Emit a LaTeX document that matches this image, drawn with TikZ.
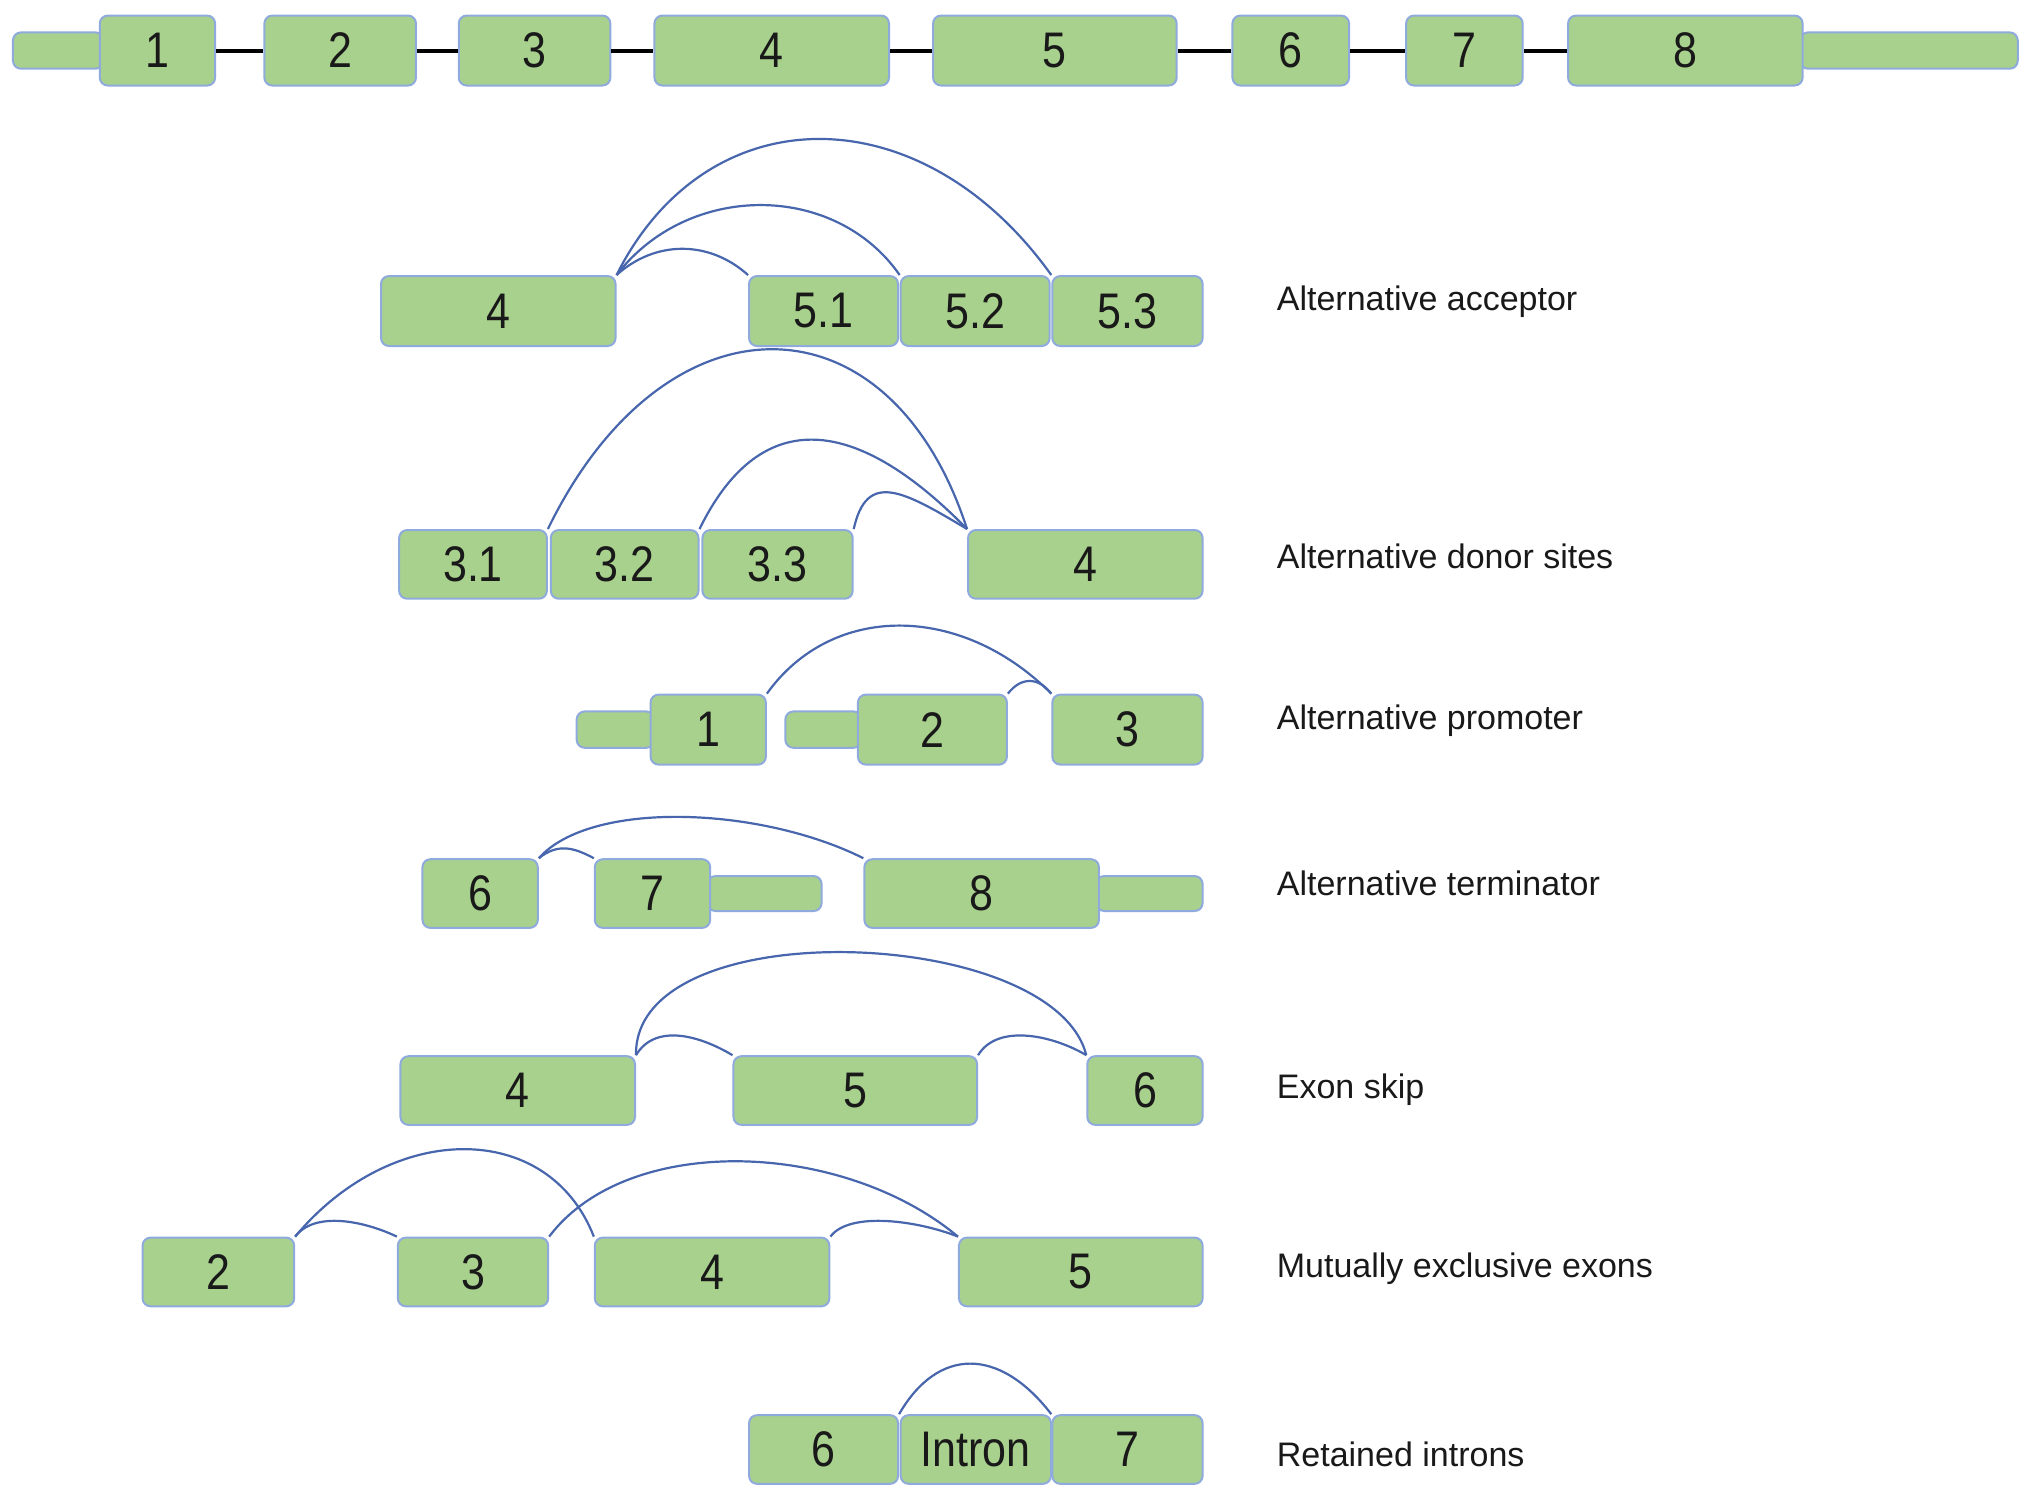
\documentclass[tikz,border=0pt]{standalone}
\usepackage{fontspec}
\setmainfont{Liberation Sans}
\newfontfamily\numf[FakeStretch=0.86]{Liberation Sans}
\definecolor{exfill}{HTML}{A9D18E}
\definecolor{exdraw}{HTML}{8FAADC}
\definecolor{arcc}{HTML}{4766AD}
\newdimen\pxu \pxu=0.648pt
\newcommand\gbox[7]{\node[#1, minimum width={(#4-#3)*\pxu}, minimum height={(#6-#5)*\pxu}] (#2) at ({(#3+#4)/2},{(#5+#6)/2}) {#7};}
\begin{document}
\begin{tikzpicture}[x=0.648pt,y=-0.648pt,
  exon/.style={draw=exdraw, fill=exfill, line width=1pt, rounded corners=4pt, inner sep=0pt, font=\numf\fontsize{25}{25}\selectfont, text=black!90},
  stub/.style={exon},
  intr/.style={draw=black, line width=2pt},
  junc/.style={draw=arcc, line width=1.1pt},
  lab/.style={anchor=west, inner sep=0pt, font=\fontsize{17}{17}\selectfont, text=black!90}]
\fill[white] (0,0) rectangle (1568,1157);
\useasboundingbox (0,0) rectangle (1568,1157);
% top row
\gbox{stub}{sL}{10}{80}{25}{53}{}
\gbox{stub}{sR}{1389}{1557}{25}{53}{}
\gbox{exon}{t1}{77}{166}{12}{66}{1}
\gbox{exon}{t2}{204}{321}{12}{66}{2}
\gbox{exon}{t3}{354}{471}{12}{66}{3}
\gbox{exon}{t4}{505}{686}{12}{66}{4}
\gbox{exon}{t5}{720}{908}{12}{66}{5}
\gbox{exon}{t6}{951}{1041}{12}{66}{6}
\gbox{exon}{t7}{1085}{1175}{12}{66}{7}
\gbox{exon}{t8}{1210}{1391}{12}{66}{8}
\draw[intr] (t1) -- (t2);
\draw[intr] (t2) -- (t3);
\draw[intr] (t3) -- (t4);
\draw[intr] (t4) -- (t5);
\draw[intr] (t5) -- (t6);
\draw[intr] (t6) -- (t7);
\draw[intr] (t7) -- (t8);
% alternative acceptor
\gbox{exon}{a4}{294}{475}{213}{267}{4}
\gbox{exon}{a51}{578}{693}{213}{267}{5.1}
\gbox{exon}{a52}{695}{810}{213}{267}{5.2}
\gbox{exon}{a53}{812}{928}{213}{267}{5.3}
\draw[junc] (a4.north east) .. controls +(30,-27) and +(-30,-27) .. (a51.north west);
\draw[junc] (a4.north east) .. controls +(55,-72) and +(-50,-72) .. (a52.north west);
\draw[junc] (a4.north east) .. controls +(70,-140) and +(-100,-140) .. (a53.north west);
\node[lab] (l1) at (985,233) {Alternative acceptor};
% alternative donor
\gbox{exon}{b31}{308}{422}{409}{462}{3.1}
\gbox{exon}{b32}{425}{539}{409}{462}{3.2}
\gbox{exon}{b33}{542}{658}{409}{462}{3.3}
\gbox{exon}{b4}{747}{928}{409}{462}{4}
\draw[junc] (b31.north east) .. controls +(90,-185) and +(-60,-185) .. (b4.north west);
\draw[junc] (b32.north east) .. controls +(45,-92) and +(-90,-92) .. (b4.north west);
\draw[junc] (b33.north east) .. controls +(10,-45) and +(-50,-30) .. (b4.north west);
\node[lab] (l2) at (985,429) {Alternative donor sites};
% alternative promoter
\gbox{stub}{cs1}{445}{505}{549}{577}{}
\gbox{stub}{cs2}{606}{665}{549}{577}{}
\gbox{exon}{c1}{502}{591}{536}{590}{1}
\gbox{exon}{c2}{662}{777}{536}{590}{2}
\gbox{exon}{c3}{812}{928}{536}{590}{3}
\draw[junc] (c1.north east) .. controls +(50,-70) and +(-70,-70) .. (c3.north west);
\draw[junc] (c2.north east) .. controls +(10,-13) and +(-10,-13) .. (c3.north west);
\node[lab] (l3) at (985,556) {Alternative promoter};
% alternative terminator
\gbox{stub}{ds1}{546}{634}{676}{703}{}
\gbox{stub}{ds2}{846}{928}{676}{703}{}
\gbox{exon}{d6}{326}{415}{663}{716}{6}
\gbox{exon}{d7}{459}{548}{663}{716}{7}
\gbox{exon}{d8}{667}{848}{663}{716}{8}
\draw[junc] (d6.north east) .. controls +(40,-45) and +(-80,-40) .. (d8.north west);
\draw[junc] (d6.north east) .. controls +(15,-12) and +(-15,-8) .. (d7.north west);
\node[lab] (l4) at (985,682) {Alternative terminator};
% exon skip
\gbox{exon}{e4}{309}{490}{815}{868}{4}
\gbox{exon}{e5}{566}{754}{815}{868}{5}
\gbox{exon}{e6}{839}{928}{815}{868}{6}
\draw[junc] (e4.north east) .. controls +(-2,-112) and +(-25,-100) .. (e6.north west);
\draw[junc] (e4.north east) .. controls +(15,-25) and +(-25,-15) .. (e5.north west);
\draw[junc] (e5.north east) .. controls +(15,-25) and +(-25,-15) .. (e6.north west);
\node[lab] (l5) at (985,841) {Exon skip};
% mutually exclusive exons
\gbox{exon}{f2}{110}{227}{955}{1008}{2}
\gbox{exon}{f3}{307}{423}{955}{1008}{3}
\gbox{exon}{f4}{459}{640}{955}{1008}{4}
\gbox{exon}{f5}{740}{928}{955}{1008}{5}
\draw[junc] (f2.north east) .. controls +(15,-20) and +(-25,-12) .. (f3.north west);
\draw[junc] (f2.north east) .. controls +(75,-90) and +(-35,-90) .. (f4.north west);
\draw[junc] (f3.north east) .. controls +(60,-80) and +(-90,-75) .. (f5.north west);
\draw[junc] (f4.north east) .. controls +(15,-20) and +(-30,-12) .. (f5.north west);
\node[lab] (l6) at (985,979) {Mutually exclusive exons};
% retained introns
\gbox{exon}{g6}{578}{693}{1092}{1145}{6}
\gbox{exon}{gi}{695}{811}{1092}{1145}{Intron}
\gbox{exon}{g7}{812}{928}{1092}{1145}{7}
\draw[junc] (g6.north east) .. controls +(30,-52) and +(-40,-52) .. (g7.north west);
\node[lab] (l7) at (985,1122) {Retained introns};
\end{tikzpicture}
\end{document}
